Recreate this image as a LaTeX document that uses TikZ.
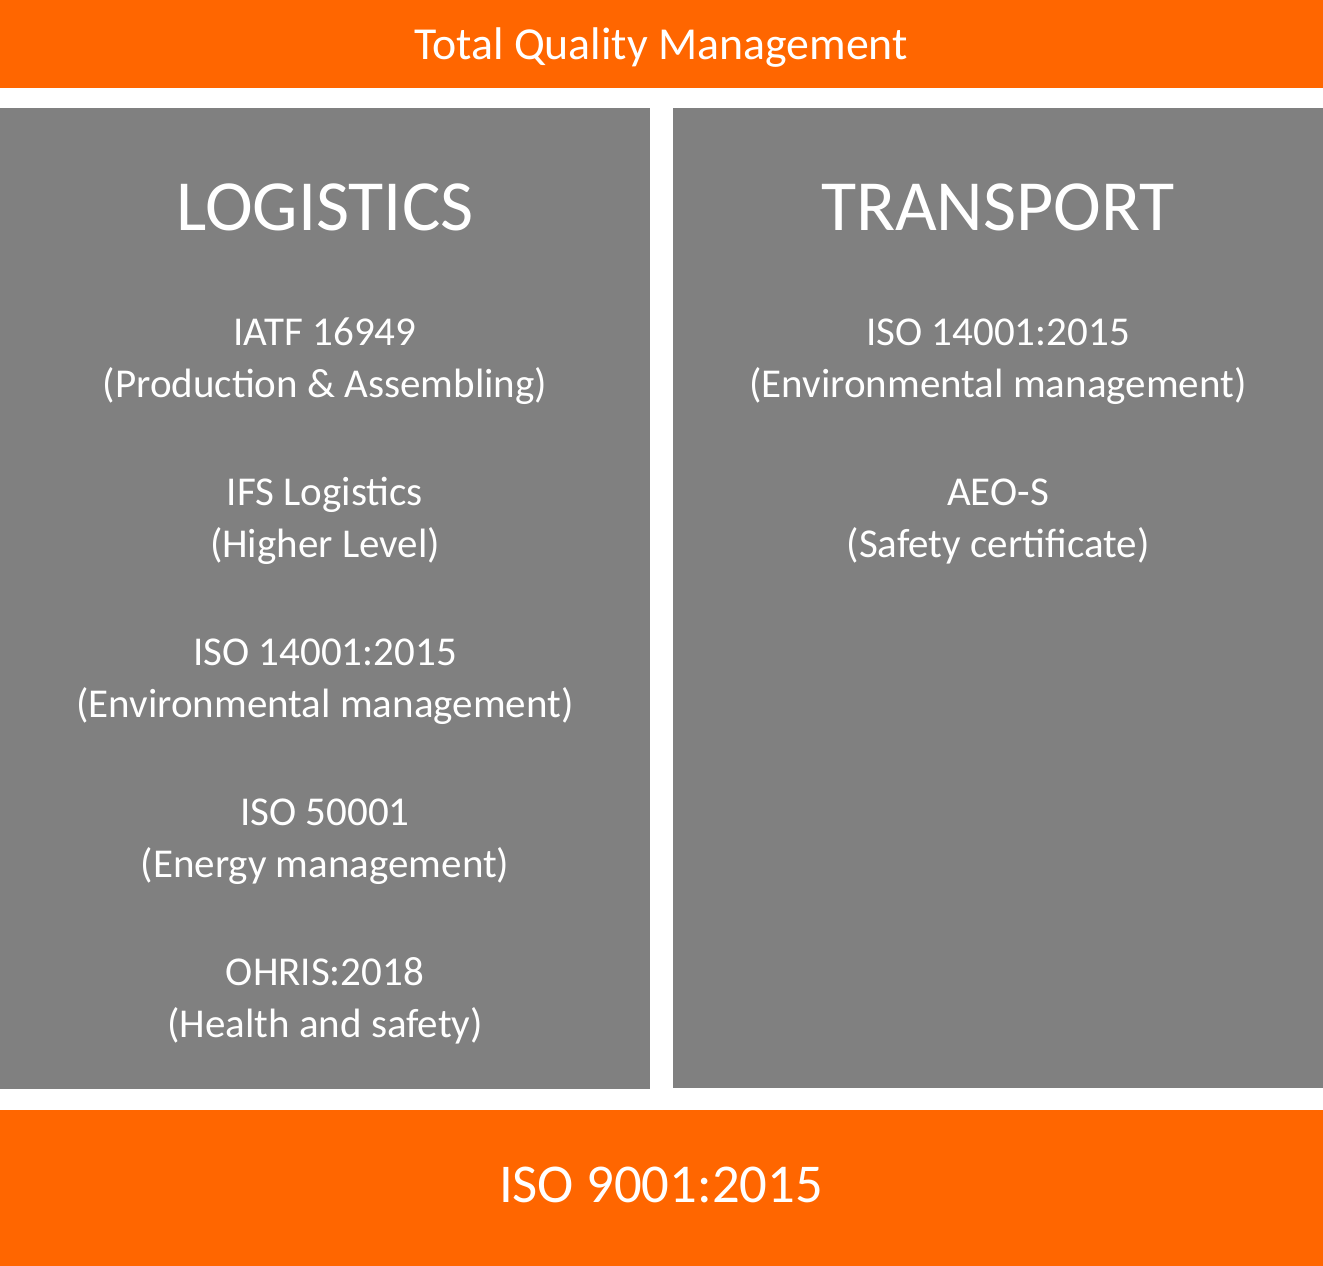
\documentclass[tikz,border=0pt]{standalone}
\usepackage{fontspec}
\setmainfont{Carlito}
\definecolor{tqmorange}{HTML}{FF6600}
\definecolor{tqmgray}{HTML}{808080}
\begin{document}
\begin{tikzpicture}[x=1pt,y=-1pt,
  bar/.style={fill=tqmorange,draw=none},
  panel/.style={fill=tqmgray,draw=none},
  txt/.style={text=white,anchor=base,inner sep=0pt,font=\fontsize{41}{48}\selectfont},
  title/.style={txt,font=\fontsize{72}{78}\selectfont},
  head/.style={txt,font=\fontsize{45.8}{52}\selectfont},
  foot/.style={txt,font=\fontsize{54.7}{60}\selectfont}]
\useasboundingbox[fill=white] (0,0) rectangle (1323,1266);
\fill[bar] (0,0) rectangle (1323,88);
\fill[panel] (0,108) rectangle (650,1089);
\fill[panel] (673,108) rectangle (1323,1088);
\fill[bar] (0,1110) rectangle (1323,1266);
\node[head] (tqm) at (661,59) {Total Quality Management};
\node[title] (log) at (325,230) {LOGISTICS};
\node[title] (tra) at (998,230) {TRANSPORT};
\node[txt] (l1a) at (325,345) {IATF 16949};
\node[txt] (l1b) at (325,397) {(Production \& Assembling)};
\node[txt] (l2a) at (325,505) {IFS Logistics};
\node[txt] (l2b) at (325,557) {(Higher Level)};
\node[txt] (l3a) at (325,665) {ISO 14001:2015};
\node[txt] (l3b) at (325,717) {(Environmental management)};
\node[txt] (l4a) at (325,825) {ISO 50001};
\node[txt] (l4b) at (325,877) {(Energy management)};
\node[txt] (l5a) at (325,985) {OHRIS:2018};
\node[txt] (l5b) at (325,1037) {(Health and safety)};
\node[txt] (r1a) at (998,345) {ISO 14001:2015};
\node[txt] (r1b) at (998,397) {(Environmental management)};
\node[txt] (r2a) at (998,505) {AEO-S};
\node[txt] (r2b) at (998,557) {(Safety certificate)};
\node[foot] (iso) at (661,1202) {ISO 9001:2015};
\end{tikzpicture}
\end{document}
